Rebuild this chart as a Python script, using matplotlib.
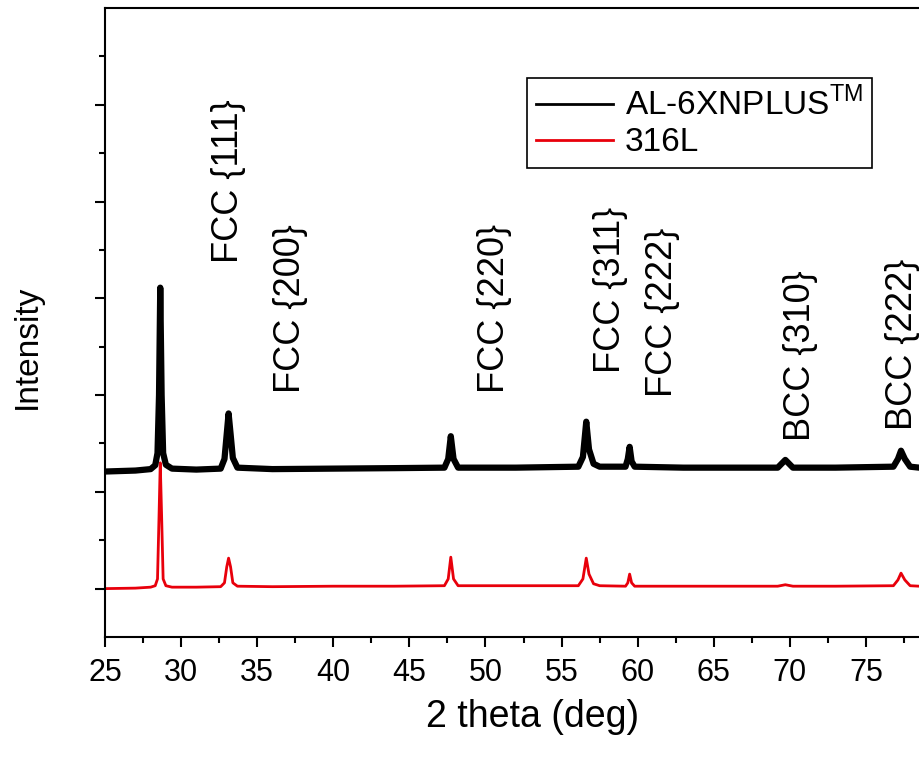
import matplotlib
matplotlib.use('Agg')
import matplotlib.pyplot as plt
from matplotlib.lines import Line2D
from matplotlib.ticker import MultipleLocator

plt.rcParams['font.family'] = ['Liberation Sans', 'DejaVu Sans']
plt.rcParams['mathtext.fontset'] = 'custom'
plt.rcParams['mathtext.rm'] = 'Liberation Sans'

# AL-6XNPLUS trace (2theta, offset intensity)
al_x = [25.0, 27.0, 28.0, 28.3, 28.45, 28.55, 28.63, 28.72, 28.82, 29.0, 29.4, 31.0,
        32.6, 32.85, 33.0, 33.12, 33.25, 33.4, 33.7, 36.0, 40.0, 44.0,
        47.3, 47.55, 47.72, 47.9, 48.2, 52.0,
        56.1, 56.4, 56.62, 56.8, 57.1, 57.5,
        59.2, 59.35, 59.47, 59.6, 59.8, 63.0, 66.0,
        69.2, 69.7, 70.2, 73.0,
        76.8, 77.1, 77.3, 77.55, 77.9, 78.5, 80.0]
al_y = [3.42, 3.44, 3.47, 3.55, 3.8, 5.0, 7.22, 5.0, 3.8, 3.56, 3.48, 3.46,
        3.48, 3.68, 4.2, 4.62, 4.2, 3.7, 3.5, 3.47, 3.48, 3.49,
        3.5, 3.68, 4.15, 3.68, 3.5, 3.5,
        3.52, 3.72, 4.45, 3.88, 3.58, 3.52,
        3.52, 3.68, 3.93, 3.63, 3.52, 3.5, 3.5,
        3.5, 3.66, 3.5, 3.5,
        3.52, 3.68, 3.85, 3.68, 3.52, 3.5, 3.5]

# 316L trace
ss_x = [25.0, 27.0, 28.0, 28.3, 28.45, 28.55, 28.63, 28.72, 28.82, 29.0, 29.4, 31.0,
        32.6, 32.85, 33.0, 33.12, 33.25, 33.4, 33.7, 36.0, 40.0, 44.0,
        47.3, 47.55, 47.72, 47.9, 48.2, 52.0,
        56.1, 56.4, 56.62, 56.8, 57.1, 57.5,
        59.2, 59.35, 59.47, 59.6, 59.8, 63.0, 66.0,
        69.2, 69.7, 70.2, 73.0,
        76.8, 77.1, 77.3, 77.55, 77.9, 78.5, 80.0]
ss_y = [1.0, 1.01, 1.03, 1.06, 1.2, 2.5, 3.6, 2.5, 1.2, 1.06, 1.03, 1.03,
        1.04, 1.12, 1.45, 1.63, 1.45, 1.12, 1.05, 1.04, 1.05, 1.05,
        1.06, 1.2, 1.65, 1.2, 1.06, 1.06,
        1.06, 1.2, 1.63, 1.3, 1.1, 1.06,
        1.05, 1.12, 1.3, 1.12, 1.05, 1.05, 1.05,
        1.05, 1.08, 1.05, 1.05,
        1.06, 1.18, 1.32, 1.18, 1.06, 1.05, 1.05]

peak_labels = ['FCC {111}', 'FCC {200}', 'FCC {220}', 'FCC {311}', 'FCC {222}',
               'BCC {310}', 'BCC {222}']
label_x = [33.1, 37.2, 50.6, 58.2, 61.6, 70.7, 77.4]
label_y = [7.73, 5.05, 5.05, 5.46, 4.95, 4.06, 4.27]

xmin, xmax = 25, 79.5
px_per_deg = 15.22
ax_w = (xmax - xmin) * px_per_deg
fig = plt.figure(figsize=(9.2, 7.59), dpi=100)
ax = fig.add_axes([105 / 920, 122 / 759, ax_w / 920, 629 / 759])

ax.plot(ss_x, ss_y, color='#e8000b', lw=2.0)
ax.plot(al_x, al_y, color='black', lw=4.5, solid_joinstyle='round')

for lab, lx, ly in zip(peak_labels, label_x, label_y):
    ax.text(lx, ly, lab, rotation=90, ha='center', va='bottom', fontsize=26)

ax.set_xlim(xmin, xmax)
ax.set_ylim(0, 13)
ax.xaxis.set_major_locator(MultipleLocator(5))
ax.xaxis.set_minor_locator(MultipleLocator(2.5))
ax.set_yticks([1, 3, 5, 7, 9, 11])
ax.set_yticks([2, 4, 6, 8, 10, 12], minor=True)
ax.set_yticklabels([])
ax.tick_params(which='major', direction='out', length=7, width=1.5, labelsize=22, pad=8)
ax.tick_params(which='minor', direction='out', length=4, width=1.5)
for s in ax.spines.values():
    s.set_linewidth(1.5)

ax.set_xlabel('2 theta (deg)', fontsize=27)
ax.xaxis.set_label_coords(428 / ax_w, -62 / 629)
ax.set_ylabel('Intensity', fontsize=24)
ax.yaxis.set_label_coords(-62 / ax_w, 0.462)

handles = [Line2D([], [], color='black', lw=2),
           Line2D([], [], color='#e8000b', lw=2)]
leg = ax.legend(handles, [r'AL-6XNPLUS$^{\mathrm{TM}}$', '316L'],
                loc='upper left', bbox_to_anchor=(422 / ax_w, 0.889),
                borderaxespad=0, fontsize=24,
                frameon=True, fancybox=False, edgecolor='black', framealpha=1,
                handlelength=2.3, borderpad=0.28, labelspacing=0.15, handletextpad=0.35)
leg.get_frame().set_linewidth(1.2)

fig.savefig('out.png', dpi=100)
